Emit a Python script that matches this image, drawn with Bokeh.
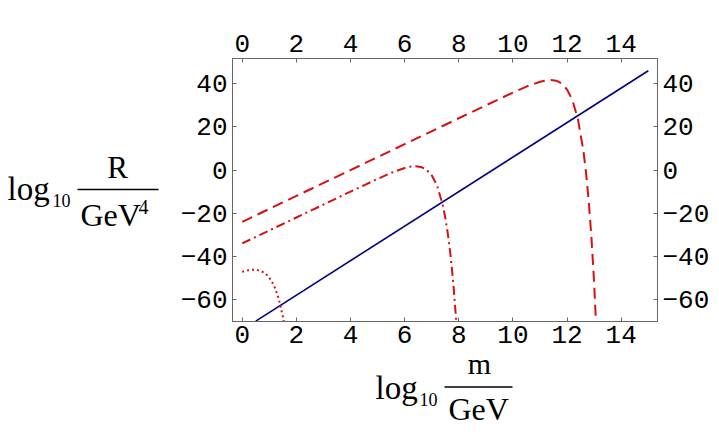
from bokeh.plotting import figure
from bokeh.models import LinearAxis, FixedTicker, Label, Arrow, Range1d, GridBox
from bokeh.layouts import column
from bokeh.embed import file_html
from bokeh.resources import INLINE

# ---- data ----
x_ticks = [0, 2, 4, 6, 8, 10, 12, 14]
y_ticks = [-60, -40, -20, 0, 20, 40]

blue_x = [0.5, 15.0]
blue_y = [-70.0, 46.0]

dash_x = [0, 2, 4, 6, 8, 9, 10, 10.5, 11, 11.2, 11.4, 11.6, 11.8, 12.0, 12.2, 12.4,
          12.6, 12.7, 12.8, 12.9, 13.0, 13.1]
dash_y = [-24, -12, 0, 12, 24, 30, 35.9, 38.7, 40.9, 41.5, 41.7, 41.4, 40.1, 37.3, 32.3, 23.6,
          9.2, -1.2, -14.5, -31.3, -52.6, -79.6]

dashdot_x = [0, 2, 4, 5, 5.5, 6.0, 6.2, 6.4, 6.6, 6.8, 7.0, 7.2, 7.4, 7.5, 7.6, 7.7, 7.8, 7.9, 8.0]
dashdot_y = [-34, -22, -10, -4.1, -1.3, 0.96, 1.55, 1.78, 1.45, 0.23, -2.4, -7.3, -15.8, -22.0,
             -29.9, -40.0, -52.9, -69.3, -90.2]

dot_x = [0, 0.1, 0.2, 0.3, 0.4, 0.5, 0.6, 0.7, 0.8, 0.9, 1.0, 1.1, 1.2, 1.3, 1.4, 1.5, 1.55, 1.6]
dot_y = [-47.2, -46.8, -46.5, -46.3, -46.2, -46.3, -46.5, -46.9, -47.5, -48.5, -49.9, -51.8,
         -54.4, -57.8, -62.2, -67.9, -71.4, -75.3]

# ---- layout (pixels) ----
X0, X1 = -0.36, 15.34
Y0, Y1 = -70.2, 51.7
W, H = 715, 440
FL, FT, FW, FH = 232, 58, 425, 263

# background figure carrying the axis titles (pixel coordinates, y downwards)
bg = figure(width=W, height=H, x_range=Range1d(0, W), y_range=Range1d(H, 0),
            output_backend="svg", toolbar_location=None,
            x_axis_location=None, y_axis_location=None, min_border=0)
bg.grid.visible = False
bg.outline_line_color = None
bg.background_fill_color = "white"
bg.border_fill_color = "white"

# main plot drawn on top with transparent fills
p = figure(width=W, height=H, x_range=Range1d(X0, X1), y_range=Range1d(Y0, Y1),
           output_backend="svg", toolbar_location=None)
p.min_border_left = FL
p.min_border_right = W - FL - FW
p.min_border_top = FT
p.min_border_bottom = H - FT - FH
p.grid.visible = False
p.outline_line_color = "#666666"
p.background_fill_color = None
p.border_fill_color = None

p.add_layout(LinearAxis(), "above")
p.add_layout(LinearAxis(), "right")

for ax in p.xaxis:
    ax.ticker = FixedTicker(ticks=x_ticks)
for ax in p.yaxis:
    ax.ticker = FixedTicker(ticks=y_ticks)
    ax.major_label_overrides = {v: str(v).replace("-", "\u2212") for v in y_ticks}

for ax in p.axis:
    ax.major_tick_in = 4
    ax.major_tick_out = 0
    ax.minor_tick_line_color = None
    ax.axis_line_color = "#666666"
    ax.major_tick_line_color = "#666666"
    ax.major_label_text_font = "Liberation Mono"
    ax.major_label_text_font_size = "26px"
    ax.major_label_text_color = "black"
    ax.major_label_standoff = 5
p.above[0].major_label_standoff = 7
p.below[0].major_label_standoff = 4

red = "#d81010"
p.line(blue_x, blue_y, line_color="#000080", line_width=1.6)
p.line(dash_x, dash_y, line_color=red, line_width=2, line_dash="11 6")
p.line(dashdot_x, dashdot_y, line_color=red, line_width=2, line_dash="9 4 2 4")
p.line(dot_x, dot_y, line_color=red, line_width=2, line_dash="2 3")


def lab(text, px, py, size, align="left"):
    # py is the intended baseline; Bokeh places the text about 0.3 em lower
    bg.add_layout(Label(x=px, y=py - 0.3 * size, text=text, text_font="Liberation Serif",
                        text_font_size=f"{size}px", text_align=align,
                        text_baseline="alphabetic", text_color="black"))


def bar(px0, px1, py):
    bg.add_layout(Arrow(end=None, x_start=px0, y_start=py, x_end=px1, y_end=py,
                        line_color="black", line_width=1.3))


# y-axis title: log10 R / GeV^4
lab("log", 7, 198, 33)
lab("10", 52, 205, 18)
lab("R", 117, 176, 31, "center")
bar(77, 158, 189)
lab("GeV", 80, 224, 32)
lab("4", 138, 212, 20)

# x-axis title: log10 m / GeV
lab("log", 375, 397, 33)
lab("10", 419, 404, 18)
lab("m", 479, 372, 30, "center")
bar(444, 512, 386.5)
lab("GeV", 448, 418, 32)

layout = GridBox(children=[(column(bg), 0, 0), (column(p), 0, 0)])
open("out.html", "w").write(file_html(layout, INLINE))
